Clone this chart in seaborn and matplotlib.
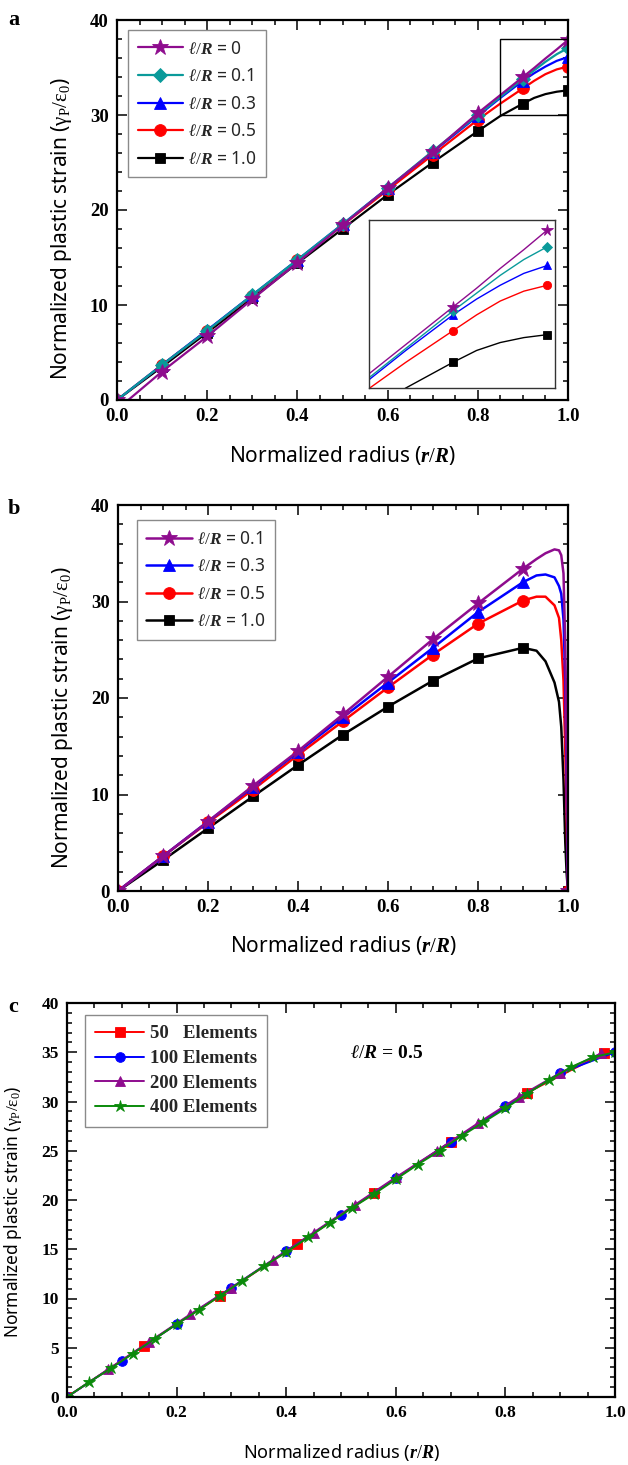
import numpy as np
import matplotlib
matplotlib.use("Agg")
import matplotlib.pyplot as plt
import seaborn as sns
from matplotlib.patches import Rectangle
from matplotlib.ticker import MultipleLocator

# ------------------------------------------------------------------ data
# Panel a : normalized plastic strain vs normalized radius
A_MARK_X = [0.0, 0.1, 0.2, 0.3, 0.4, 0.5, 0.6, 0.7, 0.8, 0.9, 1.0]
A_X = [0.0, 0.1, 0.2, 0.3, 0.4, 0.5, 0.6, 0.7, 0.8, 0.85, 0.9, 0.925, 0.95, 0.975, 1.0]
A_X_L0 = [0.0, 0.025, 0.1, 0.2, 0.3, 0.4, 0.5, 0.6, 0.7, 0.8, 0.85, 0.9, 0.925, 0.95, 0.975, 1.0]
A_L0 = [0.0, 0.0, 3.0, 6.7, 10.6, 14.45, 18.4, 22.3, 26.1, 30.2, 32.1, 34.0, 34.95, 35.95, 36.9, 37.9]
A_L01 = [0.0, 3.7, 7.3, 11.05, 14.75, 18.5, 22.3, 26.2, 30.0, 31.9, 33.8, 34.7, 35.6, 36.4, 37.05]
A_L03 = [0.0, 3.7, 7.35, 11.05, 14.75, 18.5, 22.3, 26.1, 29.9, 31.8, 33.6, 34.4, 35.1, 35.7, 36.1]
A_L05 = [0.0, 3.7, 7.3, 11.0, 14.7, 18.4, 22.1, 25.8, 29.5, 31.2, 32.8, 33.6, 34.3, 34.8, 35.1]
A_L10 = [0.0, 3.5, 7.1, 10.7, 14.4, 18.0, 21.6, 25.0, 28.3, 29.9, 31.2, 31.8, 32.2, 32.45, 32.6]

# Panel b
B_MARK_X = [0.0, 0.1, 0.2, 0.3, 0.4, 0.5, 0.6, 0.7, 0.8, 0.9, 1.0]
B_X = [0.0, 0.1, 0.2, 0.3, 0.4, 0.5, 0.6, 0.7, 0.8, 0.9,
       0.93, 0.95, 0.97, 0.98, 0.985, 0.99, 0.994, 0.997, 1.0]
B_L01 = [0.0, 3.6, 7.2, 10.9, 14.5, 18.3, 22.2, 26.1, 29.8, 33.4,
         34.4, 35.0, 35.4, 35.3, 34.8, 32.9, 25.3, 13.0, 0.0]
B_L03 = [0.0, 3.6, 7.2, 10.8, 14.4, 18.0, 21.6, 25.2, 28.9, 32.0,
         32.7, 32.8, 32.5, 31.6, 30.8, 28.1, 21.8, 11.5, 0.0]
B_L05 = [0.0, 3.6, 7.1, 10.5, 14.1, 17.6, 21.1, 24.5, 27.7, 30.1,
         30.5, 30.5, 29.6, 28.3, 26.0, 21.8, 14.5, 7.5, 0.0]
B_L10 = [0.0, 3.2, 6.5, 9.8, 13.05, 16.2, 19.1, 21.8, 24.1, 25.2,
         24.9, 23.8, 21.6, 19.6, 17.0, 11.5, 5.0, 1.8, 0.0]

# Panel c : mesh convergence, l/R = 0.5
C50_X = [0.0, 0.14, 0.28, 0.42, 0.56, 0.70, 0.84, 0.98]
C50_Y = [0.0, 5.2, 10.3, 15.5, 20.7, 25.9, 30.9, 34.9]
C100_X = [0.0, 0.1, 0.2, 0.3, 0.4, 0.5, 0.6, 0.7, 0.8, 0.9, 1.0]
C100_Y = [0.0, 3.7, 7.4, 11.1, 14.8, 18.5, 22.2, 25.9, 29.5, 32.9, 35.0]
C200_X = [0.0, 0.075, 0.15, 0.225, 0.3, 0.375, 0.45, 0.525, 0.6, 0.675,
          0.75, 0.825, 0.9, 0.975]
C200_Y = [0.0, 2.8, 5.6, 8.4, 11.1, 13.9, 16.7, 19.5, 22.3, 25.0,
          27.8, 30.5, 32.9, 34.9]
C400_X = [0.0, 0.04, 0.08, 0.12, 0.16, 0.2, 0.24, 0.28, 0.32, 0.36, 0.4,
          0.44, 0.48, 0.52, 0.56, 0.6, 0.64, 0.68, 0.72, 0.76, 0.8,
          0.84, 0.88, 0.92, 0.96, 1.0]
C400_Y = [0.0, 1.5, 2.9, 4.4, 5.9, 7.4, 8.8, 10.3, 11.8, 13.3, 14.7,
          16.2, 17.7, 19.2, 20.6, 22.1, 23.6, 25.0, 26.5, 27.9, 29.3,
          30.8, 32.2, 33.5, 34.5, 35.0]

A_LABELS = [r"$\ell/R$ = 0", r"$\ell/R$ = 0.1", r"$\ell/R$ = 0.3",
            r"$\ell/R$ = 0.5", r"$\ell/R$ = 1.0"]
B_LABELS = [r"$\ell/R$ = 0.1", r"$\ell/R$ = 0.3", r"$\ell/R$ = 0.5",
            r"$\ell/R$ = 1.0"]
C_LABELS = ["50   Elements", "100 Elements", "200 Elements", "400 Elements"]

ZOOM_BOX = (0.85, 1.0, 30.0, 38.0)   # x0, x1, y0, y1 of the marked region
INSET_XLIM = (0.811, 1.008)
INSET_YLIM = (29.9, 38.4)

# ------------------------------------------------------------------ style
sns.set_style("ticks")
plt.rcParams["font.family"] = ["Noto Sans", "DejaVu Sans"]
plt.rcParams["mathtext.fontset"] = "custom"
plt.rcParams["mathtext.rm"] = "Liberation Serif"
plt.rcParams["mathtext.it"] = "Liberation Serif:italic:bold"
plt.rcParams["mathtext.bf"] = "Liberation Serif:bold"
plt.rcParams["axes.grid"] = False

PURPLE = "#8E0C8E"
TEAL = "#0A9A9A"
BLUE = "#0000FF"
RED = "#FF0000"
BLACK = "#000000"
GREEN = "#0A8A0A"

W, H = 628, 1465
fig = plt.figure(figsize=(W / 100, H / 100), dpi=100)


def frac(x0, y0, x1, y1):
    return [x0 / W, 1 - y1 / H, (x1 - x0) / W, (y1 - y0) / H]


def draw(ax, x, y, mark_x, color, marker, ms, lw, label):
    x = np.asarray(x, dtype=float)
    idx = [i for i, v in enumerate(x) if np.any(np.isclose(v, mark_x))]
    sns.lineplot(x=x, y=np.asarray(y, dtype=float), ax=ax, color=color,
                 marker=marker, markersize=ms, linewidth=lw, markevery=idx,
                 markeredgecolor=color, markeredgewidth=0.6, label=label,
                 legend=False, sort=False, estimator=None)


def style_axes(ax, xmin, ymaj, ymin, labelsize):
    ax.set_xlim(0, 1)
    ax.set_ylim(0, 40)
    ax.xaxis.set_major_locator(MultipleLocator(0.2))
    ax.xaxis.set_minor_locator(MultipleLocator(xmin))
    ax.yaxis.set_major_locator(MultipleLocator(ymaj))
    ax.yaxis.set_minor_locator(MultipleLocator(ymin))
    ax.tick_params(which="both", direction="in", top=True, right=True,
                   width=1.1, color="black", labelsize=labelsize)
    ax.tick_params(which="major", length=7, pad=6)
    ax.tick_params(which="minor", length=3.5)
    for s in ax.spines.values():
        s.set_visible(True)
        s.set_linewidth(1.6)
        s.set_color("black")
    for lbl in ax.get_xticklabels() + ax.get_yticklabels():
        lbl.set_fontfamily("Liberation Serif")
        lbl.set_fontweight("bold")
        lbl.set_color("black")


def labels(ax, xl_y, yl_x, yl_y, size_x, size_y):
    ax.set_xlabel(r"Normalized radius ($r/R$)", fontsize=size_x, color="black")
    ax.set_ylabel(r"Normalized plastic strain ($\mathrm{\gamma_P/\varepsilon_0}$)",
                  fontsize=size_y, color="black")
    ax.xaxis.set_label_coords(0.5, xl_y)
    ax.xaxis.label.set_verticalalignment("center")
    ax.yaxis.set_label_coords(yl_x, yl_y)
    ax.yaxis.label.set_verticalalignment("center")


def legend(ax, order, anchor, fontsize, family=None, weight=None, spacing=0.5):
    h, l = ax.get_legend_handles_labels()
    m = dict(zip(l, h))
    prop = {"size": fontsize}
    if family:
        prop["family"] = family
    if weight:
        prop["weight"] = weight
    leg = ax.legend([m[k] for k in order], order, loc="upper left",
                    bbox_to_anchor=anchor, borderaxespad=0, prop=prop,
                    handlelength=2.6, handletextpad=0.3, labelspacing=spacing,
                    borderpad=0.55, fancybox=False, framealpha=1,
                    edgecolor="#8a8a8a", numpoints=1)
    leg.get_frame().set_linewidth(1.0)
    return leg


# ------------------------------------------------------------------ panel a
axa = fig.add_axes(frac(117, 20, 568, 400))
A_SERIES = [
    (A_X, A_L10, BLACK, "s", 7.5, A_LABELS[4]),
    (A_X, A_L05, RED, "o", 8.5, A_LABELS[3]),
    (A_X, A_L03, BLUE, "^", 8.5, A_LABELS[2]),
    (A_X, A_L01, TEAL, "D", 7.5, A_LABELS[1]),
    (A_X_L0, A_L0, PURPLE, "*", 12, A_LABELS[0]),
]
for x, y, c, mk, ms, lab in A_SERIES:
    draw(axa, x, y, A_MARK_X, c, mk, ms, 1.6, lab)
style_axes(axa, 0.05, 10, 2, 13.5)
labels(axa, -0.145, -0.124, 0.45, 15, 15)
legend(axa, A_LABELS, (0.0244, 0.9737), 12.5, spacing=0.55)
axa.add_patch(Rectangle((ZOOM_BOX[0], ZOOM_BOX[2]), ZOOM_BOX[1] - ZOOM_BOX[0],
                        ZOOM_BOX[3] - ZOOM_BOX[2], fill=False, ec="black",
                        lw=1.0, zorder=5))

# inset
axi = fig.add_axes(frac(369, 220, 555, 388))
for x, y, c, mk, ms, lab in A_SERIES:
    draw(axi, x, y, A_MARK_X, c, mk, ms * 0.7, 1.0, lab)
axi.set_xlim(*INSET_XLIM)
axi.set_ylim(*INSET_YLIM)
axi.set_xticks([])
axi.set_yticks([])
axi.set_xlabel("")
axi.set_ylabel("")
for s in axi.spines.values():
    s.set_visible(True)
    s.set_linewidth(1.0)
    s.set_color("#333333")

# ------------------------------------------------------------------ panel b
axb = fig.add_axes(frac(118, 505, 568, 891))
B_SERIES = [
    (B_L10, BLACK, "s", 7.5, B_LABELS[3]),
    (B_L05, RED, "o", 8.5, B_LABELS[2]),
    (B_L03, BLUE, "^", 8.5, B_LABELS[1]),
    (B_L01, PURPLE, "*", 12, B_LABELS[0]),
]
for y, c, mk, ms, lab in B_SERIES:
    draw(axb, B_X, y, B_MARK_X, c, mk, ms, 1.8, lab)
style_axes(axb, 0.05, 10, 2, 13.5)
labels(axb, -0.142, -0.124, 0.45, 15, 15)
legend(axb, B_LABELS, (0.042, 0.961), 12.5, spacing=0.55)

# ------------------------------------------------------------------ panel c
axc = fig.add_axes(frac(67, 1003, 615, 1397))
C_SERIES = [
    (C50_X, C50_Y, RED, "s", 6.5, C_LABELS[0]),
    (C100_X, C100_Y, BLUE, "o", 7, C_LABELS[1]),
    (C200_X, C200_Y, PURPLE, "^", 7.5, C_LABELS[2]),
    (C400_X, C400_Y, GREEN, "*", 9, C_LABELS[3]),
]
for x, y, c, mk, ms, lab in C_SERIES:
    draw(axc, x, y, x, c, mk, ms, 1.4, lab)
style_axes(axc, 0.05, 5, 1, 12.5)
labels(axc, -0.14, -0.0985, 0.47, 13, 12.5)
legend(axc, C_LABELS, (0.033, 0.9695), 13.5, family="Liberation Serif",
       weight="bold", spacing=0.4)
axc.text(0.516, 0.873, r"$\ell/R$ = 0.5", transform=axc.transAxes,
         fontsize=14, family="Liberation Serif", weight="bold", va="center",
         ha="left", color="black")

# ------------------------------------------------------------------ panel letters
for letter, ytop in (("a", 10), ("b", 499), ("c", 997)):
    fig.text(8 / W, 1 - ytop / H, letter, fontsize=16, family="Liberation Serif",
             weight="bold", va="top", ha="left", color="black")

fig.savefig("out.png", dpi=100, facecolor="white")
